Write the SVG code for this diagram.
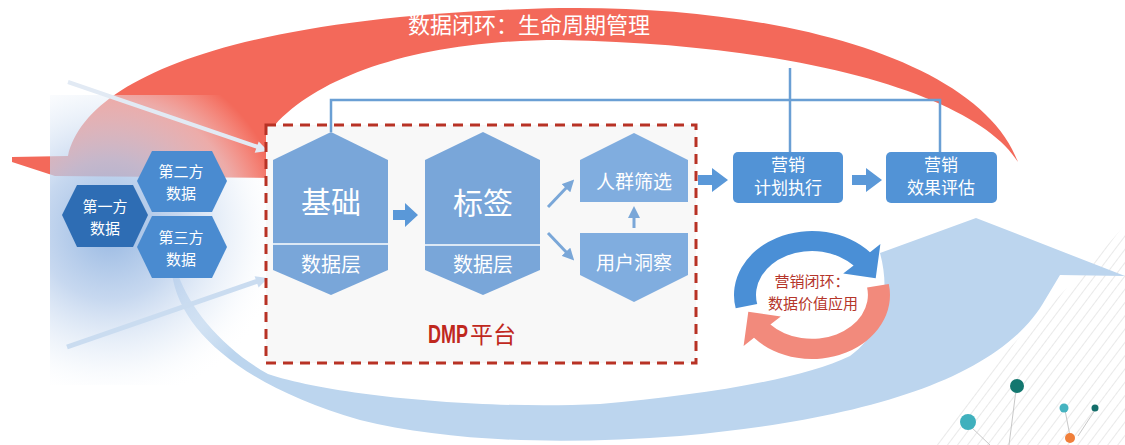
<svg xmlns="http://www.w3.org/2000/svg" width="1125" height="445" viewBox="0 0 1125 445">
<defs>
<style>
.t{font-family:"Noto Sans CJK SC","Noto Sans",sans-serif;text-anchor:middle;fill:#ffffff}
.hexL{fill:#79a6d9}
.hexS{fill:#4a8bd0}
.box{fill:#5293d6}
.blk{fill:#5a98d8}
.thin{stroke:#7aa7d8;stroke-width:3;fill:none;marker-end:url(#ah)}
.conn{stroke:#6a9fd4;stroke-width:2.5;fill:none}
.div{stroke:#dce8f5;stroke-width:2}
.rt{font-family:"Noto Sans CJK SC",sans-serif;text-anchor:middle;fill:#b5352a}
</style>
<marker id="ah" markerWidth="4" markerHeight="4" refX="1" refY="2" orient="auto" markerUnits="strokeWidth">
<path d="M0,0 L4,2 L0,4 Z" fill="#7aa7d8"/>
</marker>
<radialGradient id="glow" gradientUnits="userSpaceOnUse" cx="110" cy="230" r="175">
<stop offset="0" stop-color="#8db1df" stop-opacity="0.92"/>
<stop offset="0.4" stop-color="#b7cdeb" stop-opacity="0.78"/>
<stop offset="0.75" stop-color="#e6eef8" stop-opacity="0.5"/>
<stop offset="1" stop-color="#ffffff" stop-opacity="0"/>
</radialGradient>
<pattern id="hatch" patternUnits="userSpaceOnUse" width="8" height="8" patternTransform="rotate(37)">
<line x1="0" y1="0" x2="0" y2="8" stroke="#cfcfcf" stroke-width="0.9"/>
</pattern>
<clipPath id="hclip"><path d="M1125,225 C1060,300 980,370 930,445 L1125,445 Z"/></clipPath>
</defs>

<rect width="1125" height="445" fill="#ffffff"/>

<g id="decor-hatch">
<rect x="900" y="200" width="225" height="245" fill="url(#hatch)" clip-path="url(#hclip)"/>
</g>

<g id="data-loop">
<path d="M12,157 L68,156 C85,80 230,15 560,8 C780,5 980,60 1018,162 C980,100 820,45 560,40 C420,40 320,75 275,125 L275,178 L55,176 L12,162 Z" fill="#f3695a"/>
<text class="t" x="529" y="33" font-size="22">数据闭环：生命周期管理</text>
</g>

<g id="value-band">
<path d="M172,274 C180,330 240,385 360,420 C450,442 560,445 680,436 C860,420 1000,380 1045,300 L1060,275 L1125,276 L976,218 L880,253 C890,290 885,330 850,356 C800,380 700,395 600,404 C480,410 330,395 268,374 C225,350 190,310 178,274 Z" fill="#bcd5ee"/>
</g>

<g id="glow-area">
<rect x="50" y="95" width="230" height="290" fill="url(#glow)"/>
</g>

<g id="input-arrows">
<line x1="68" y1="82" x2="258" y2="147" stroke="#e2eaf4" stroke-width="4"/>
<polygon points="268,151 254.7,152.8 258.7,141.4" fill="#e2eaf4"/>
<line x1="67" y1="347" x2="258" y2="281" stroke="#cadcf0" stroke-width="5"/>
<polygon points="268,278 258.6,287.6 254.6,276.2" fill="#cadcf0"/>
</g>

<g id="dots">
<line x1="1016" y1="390" x2="1009" y2="445" stroke="#c8c8c8" stroke-width="1"/>
<line x1="970" y1="426" x2="990" y2="445" stroke="#c8c8c8" stroke-width="1"/>
<line x1="1065" y1="410" x2="1070" y2="436" stroke="#c8c8c8" stroke-width="1"/>
<line x1="1095" y1="410" x2="1078" y2="436" stroke="#c8c8c8" stroke-width="1"/>
<circle cx="1017" cy="386" r="7" fill="#13776f"/>
<circle cx="968" cy="422" r="8" fill="#3fb0bd"/>
<circle cx="1064" cy="408" r="4.5" fill="#45b3c0"/>
<circle cx="1095" cy="408" r="3.5" fill="#136e6a"/>
<circle cx="1070" cy="438" r="5" fill="#f07f3a"/>
</g>

<g id="dmp-platform">
<rect x="266" y="125" width="430" height="238" fill="#f8f8f8" stroke="#b83225" stroke-width="3" stroke-dasharray="10 7"/>
<text transform="translate(428,343) scale(0.72,1)" x="0" y="0" font-size="25" fill="#c0281e" font-family="Liberation Sans, sans-serif" font-weight="700">DMP</text>
<text x="470" y="343" font-size="23" fill="#c0281e" font-family="Noto Sans CJK SC, sans-serif">平台</text>
</g>

<g id="node-first">
<polygon points="62,215 77,185 133,185 148,215 133,247 77,247" fill="#2e6db4"/>
<text class="t" x="105" y="212" font-size="15">第一方</text>
<text class="t" x="105" y="234" font-size="15">数据</text>
</g>
<g id="node-second">
<polygon points="137,181 152,151 212,151 227,181 212,212 152,212" class="hexS"/>
<text class="t" x="181" y="177" font-size="15">第二方</text>
<text class="t" x="181" y="199" font-size="15">数据</text>
</g>
<g id="node-third">
<polygon points="137,247 152,216 212,216 227,247 212,278 152,278" class="hexS"/>
<text class="t" x="181" y="243" font-size="15">第三方</text>
<text class="t" x="181" y="265" font-size="15">数据</text>
</g>

<g id="node-base">
<polygon points="331,132 388,160 388,270 331,295 273,270 273,160" class="hexL"/>
<line x1="273" y1="244" x2="388" y2="244" class="div"/>
<text class="t" x="331" y="213" font-size="30">基础</text>
<text class="t" x="331" y="272" font-size="20">数据层</text>
</g>
<g id="node-tag">
<polygon points="483,132 540,160 540,270 483,295 425,270 425,160" class="hexL"/>
<line x1="425" y1="245" x2="540" y2="245" class="div"/>
<text class="t" x="483" y="214" font-size="30">标签</text>
<text class="t" x="483" y="272" font-size="20">数据层</text>
</g>
<g id="node-select">
<polygon points="580,160 634,133 688,160 688,202 580,202" fill="#80addf"/>
<text class="t" x="634" y="189" font-size="19">人群筛选</text>
</g>
<g id="node-insight">
<polygon points="580,233 688,233 688,275 634,302 580,275" fill="#80addf"/>
<text class="t" x="634" y="270" font-size="19">用户洞察</text>
</g>
<g id="node-plan">
<rect x="733" y="152" width="110" height="51" rx="5" class="box"/>
<text class="t" x="788" y="171" font-size="17">营销</text>
<text class="t" x="788" y="194" font-size="17">计划执行</text>
</g>
<g id="node-eval">
<rect x="886" y="152" width="111" height="51" rx="5" class="box"/>
<text class="t" x="941" y="171" font-size="17">营销</text>
<text class="t" x="941" y="194" font-size="17">效果评估</text>
</g>

<g id="connectors">
<polyline points="331,132 331,100 940,100 940,152" class="conn"/>
<line x1="790" y1="68" x2="790" y2="152" class="conn"/>
<polygon points="393,210 405,210 405,203 418,215 405,227 405,220 393,220" class="blk"/>
<polygon points="698,175 712,175 712,168 728,180 712,192 712,185 698,185" class="blk"/>
<polygon points="852,175 866,175 866,168 882,180 866,192 866,185 852,185" class="blk"/>
<line x1="548" y1="207" x2="568" y2="186" class="thin"/>
<line x1="548" y1="233" x2="568" y2="254" class="thin"/>
<line x1="634" y1="228" x2="634" y2="215" class="thin"/>
</g>

<g id="marketing-loop">
<path d="M888.8,283.9 A78,64 0 0 1 754.0,337.8 L743.6,345.9 L748.3,311.7 L780.8,316.4 L770.4,324.4 A56,44 0 0 0 867.1,287.4 Z" fill="#f28a7c"/>
<path d="M735.7,308.3 A78,64 0 0 1 870.0,252.2 L880.4,244.1 L875.7,278.3 L843.2,273.6 L853.6,265.6 A56,44 0 0 0 757.2,304.1 Z" fill="#4a8fd6"/>
<text class="rt" x="812" y="287" font-size="15">营销闭环：</text>
<text class="rt" x="813" y="309" font-size="15">数据价值应用</text>
</g>
</svg>
